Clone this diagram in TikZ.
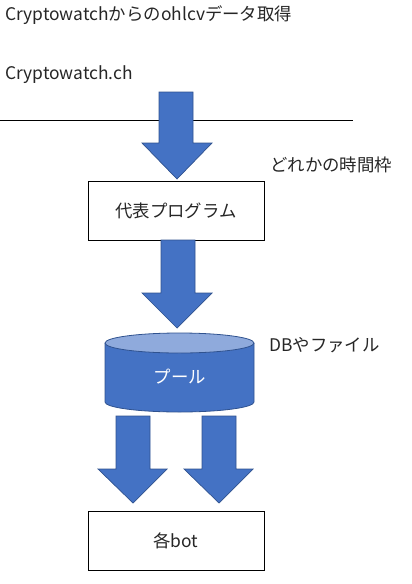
\documentclass[tikz,border=0pt]{standalone}
\usepackage{fontspec}
\setmainfont{Noto Sans CJK JP}
\definecolor{arrowblue}{HTML}{4472C4}
\definecolor{edgeblue}{HTML}{2F528F}
\definecolor{topblue}{HTML}{8FAADC}
\definecolor{txt}{HTML}{262626}
\begin{document}
\begin{tikzpicture}[x=1pt,y=-1pt,
  lbl/.style={anchor=west,inner sep=0pt,font=\fontsize{17.4}{20}\selectfont,text=txt},
  boxnode/.style={draw=black,line width=0.9pt,minimum width=176pt,minimum height=59pt,inner sep=0pt,font=\fontsize{17.4}{20}\selectfont,text=txt},
  blockarrow/.style={fill=arrowblue,draw=edgeblue,line width=0.7pt,line join=miter}]
\useasboundingbox (0,0) rectangle (412,584);
% texts
\node[lbl] (title) at (5,15) {Cryptowatchからのohlcvデータ取得};
\node[lbl] (src) at (5,75) {Cryptowatch.ch};
\node[lbl] (tf) at (270,165) {どれかの時間枠};
\node[lbl] (db) at (269,345) {DBやファイル};
% line
\coordinate (l0) at (0,120);
\coordinate (l1) at (353,120);
\draw[line width=0.9pt] (l0) -- (l1);
% boxes
\node[boxnode] (prog) at (176,210.5) {代表プログラム};
\node[boxnode] (bot) at (176,540.5) {各bot};
% arrow 1
\draw[blockarrow] (159,92) -- (193,92) -- (193,143) -- (212,143) -- (177,179) -- (142,143) -- (159,143) -- cycle;
% arrow 2
\draw[blockarrow] (161,240) -- (195,240) -- (195,293) -- (212,293) -- (177,328) -- (142,293) -- (161,293) -- cycle;
% cylinder
\draw[fill=arrowblue,draw=edgeblue,line width=0.8pt] (105,343) -- (105,402) arc[start angle=180,end angle=0,x radius=74.5,y radius=10] -- (254,343);
\draw[fill=topblue,draw=edgeblue,line width=0.8pt] (179.5,343) ellipse[x radius=74.5,y radius=10];
\node[inner sep=0pt,font=\fontsize{17.4}{20}\selectfont,text=white] (pool) at (180,377) {プール};
% arrows 3,4
\draw[blockarrow] (116,416) -- (150,416) -- (150,469) -- (167,469) -- (133,503) -- (98,469) -- (116,469) -- cycle;
\draw[blockarrow] (202,416) -- (236,416) -- (236,469) -- (253,469) -- (219,503) -- (184,469) -- (202,469) -- cycle;
\end{tikzpicture}
\end{document}
